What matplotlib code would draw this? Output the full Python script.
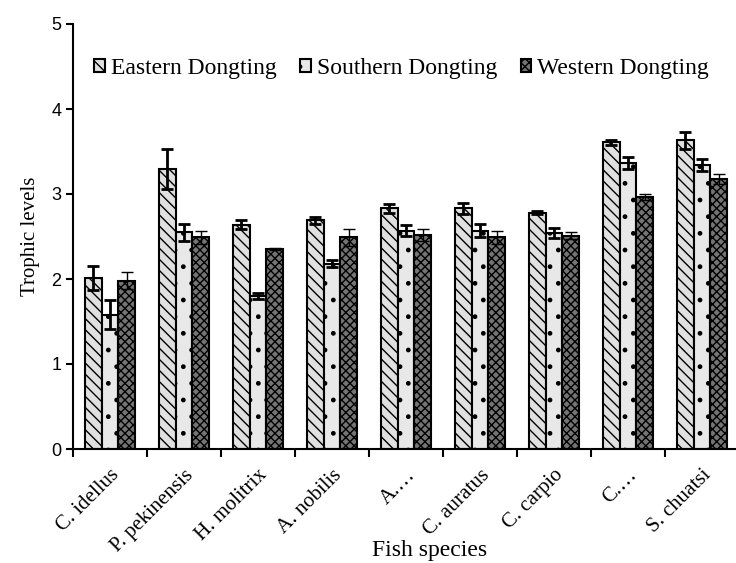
import numpy as np
import matplotlib
matplotlib.use("Agg")
import matplotlib.pyplot as plt

species = ["C. idellus", "P. pekinensis", "H. molitrix", "A. nobilis", "A.\u2026",
           "C. auratus", "C. carpio", "C.\u2026", "S. chuatsi"]
regions = ["Eastern Dongting", "Southern Dongting", "Western Dongting"]

eastern = [2.01, 3.29, 2.64, 2.69, 2.83, 2.83, 2.78, 3.61, 3.63]
southern = [1.58, 2.55, 1.80, 2.18, 2.57, 2.57, 2.54, 3.37, 3.34]
western = [1.98, 2.49, 2.35, 2.49, 2.52, 2.49, 2.51, 2.97, 3.18]
eastern_err = [0.14, 0.235, 0.05, 0.04, 0.05, 0.07, 0.02, 0.03, 0.095]
southern_err = [0.17, 0.10, 0.03, 0.04, 0.06, 0.075, 0.06, 0.07, 0.07]
western_err = [0.10, 0.08, 0.01, 0.10, 0.07, 0.08, 0.04, 0.035, 0.06]

plt.rcParams['hatch.linewidth'] = 1.0
serif = ['Liberation Serif', 'DejaVu Serif']
sans = ['Liberation Sans', 'DejaVu Sans']

fig = plt.figure(figsize=(7.36, 5.63), dpi=100)
ax = fig.add_axes([73 / 736, 1 - 449 / 563, 666 / 736, 425 / 563])

x = np.arange(len(species)) + 0.5
w = 0.226
styles = [
    (eastern, eastern_err, '#e0e0e0', '\\\\\\', 2.0),
    (southern, southern_err, '#e8e8e8', '.', 2.0),
    (western, western_err, '#747474', 'xxxx', 1.0),
]
for i, (vals, errs, fc, hatch, elw) in enumerate(styles):
    ax.bar(x + (i - 1) * w, vals, w, color=fc, edgecolor='black', hatch=hatch,
           linewidth=1.5, label=regions[i], zorder=2)
    ax.errorbar(x + (i - 1) * w, vals, yerr=errs, fmt='none', ecolor='black',
                elinewidth=elw, capsize=4, capthick=elw, zorder=3)

ax.set_xlim(0, 9)
ax.set_ylim(0, 5)
ax.set_yticks([0, 1, 2, 3, 4, 5])
ax.set_xticks(np.arange(0, 9))
ax.set_xticklabels([])
ax.set_xticks(x, minor=True)
ax.set_xticklabels(species, minor=True, rotation=45, ha='right',
                   rotation_mode='anchor', fontsize=15, family=serif)
ax.tick_params(axis='x', which='minor', length=0, pad=12)
ax.tick_params(axis='x', which='major', length=6, width=1.5, direction='out')
ax.tick_params(axis='y', length=5, width=1.5, labelsize=13)
for lab in ax.get_yticklabels():
    lab.set_family(sans)

for s in ['top', 'right']:
    ax.spines[s].set_visible(False)
for s in ['left', 'bottom']:
    ax.spines[s].set_linewidth(1.5)

ax.set_ylabel("Trophic levels", fontsize=15, family=serif, labelpad=8)
ax.set_xlabel("Fish species", fontsize=17, family=serif)
ax.xaxis.set_label_coords((430 - 73) / 666, -0.215)

ax.legend(loc='upper left', bbox_to_anchor=(0.0, 0.97), ncol=3, frameon=False,
          prop={'family': serif, 'size': 17}, handlelength=0.45, handleheight=0.45,
          handletextpad=0.25, columnspacing=1.0)

fig.savefig("out.png", dpi=100)
